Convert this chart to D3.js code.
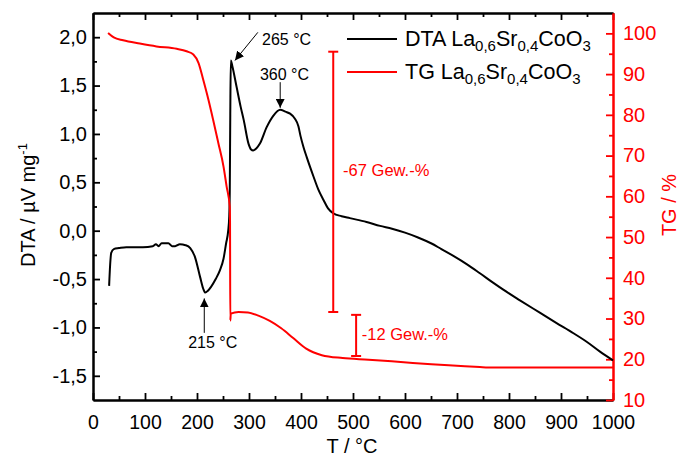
<!DOCTYPE html>
<html>
<head>
<meta charset="utf-8">
<script src="https://cdn.jsdelivr.net/npm/d3@7"></script>
<style>
body{margin:0;background:#fff;}
text{font-family:"Liberation Sans",Arial,sans-serif;}
</style>
</head>
<body>
<svg id="chart" width="679" height="462"></svg>
<script>
// DTA curve (T in °C, signal in µV/mg)
var dtaT=[31,33,35,40,50,64,96,115,121,126,132,138,145,152,158,167,178,187,196,206,212,216,221,227,236,244,251,256,260,262,263,264,265,268,276,284,290,299,304,308,314,321,334,347,360,370,379,388,395,399,405,411,424,433,443,452,462,478,494,526,552,575,600,625,650,670,693,720,744,770,789,821,860,890,924,950,975,1000];
var dtaV=[-0.57,-0.35,-0.23,-0.19,-0.18,-0.17,-0.17,-0.16,-0.14,-0.16,-0.13,-0.13,-0.13,-0.16,-0.16,-0.14,-0.15,-0.18,-0.27,-0.48,-0.60,-0.64,-0.62,-0.58,-0.50,-0.41,-0.29,-0.13,0.0,0.15,0.4,1.2,1.76,1.70,1.49,1.28,1.14,0.90,0.84,0.83,0.85,0.90,1.07,1.19,1.25,1.23,1.21,1.16,1.08,0.98,0.86,0.76,0.56,0.43,0.32,0.23,0.18,0.15,0.13,0.09,0.05,0.02,-0.02,-0.07,-0.13,-0.19,-0.26,-0.35,-0.44,-0.54,-0.61,-0.72,-0.85,-0.95,-1.06,-1.15,-1.25,-1.34];
// TG curve (T in °C, mass in %)
var tgT=[29,40,58,90,122,161,180,193,203,212,222,231,241,251,257,263,263.5,264,265,280,298,318,340,362,385,410,440,480,530,615,744,760,1000];
var tgV=[100.1,99.0,98.3,97.5,96.8,96.2,95.6,94.8,92.7,88.6,83.7,78.8,73.1,67.3,62.4,57.5,54,29.5,31.2,31.6,31.5,30.7,29.4,27.6,25.2,22.6,21.0,20.3,19.9,19.1,18.1,18.0,18.0];

var xTicks=[0,100,200,300,400,500,600,700,800,900,1000];
var xMinor=[50,150,250,350,450,550,650,750,850,950];
var dtaTicks=[-1.5,-1.0,-0.5,0.0,0.5,1.0,1.5,2.0];
var dtaMinor=[-1.25,-0.75,-0.25,0.25,0.75,1.25,1.75];
var tgTicks=[10,20,30,40,50,60,70,80,90,100];
var tgMinor=[15,25,35,45,55,65,75,85,95];

// peak labels: text, arrow from/to (T, DTA)
var peakLabel=["265 °C","360 °C","215 °C"];
var peakTextAt=[[325,1.92],[321,1.555],[183,-1.21]];
var peakArrow=[[[317,2.05],[273,1.76]],[[360,1.535],[360,1.27]],[[214,-1.056],[214,-0.70]]];
// mass loss bars (T, TG from, TG to) and labels
var lossLabel=["-67 Gew.-%","-12 Gew.-%"];
var lossBar=[[462,95.5,31.6],[506,30.9,20.8]];
var lossTextAt=[[481,65],[517,24.7]];

var svg=d3.select("#chart");
var x=d3.scaleLinear().domain([0,1000]).range([93,613]);
var yL=d3.scaleLinear().domain([-1.75,2.25]).range([400,13]);
var yR=d3.scaleLinear().domain([10,105]).range([400,13]);
var red="#ff0000";

function comma(v){return d3.format(".1f")(v).replace(".",",").replace("\u2212","-");}

function styleAxis(g,col,fs){
	g.select(".domain").attr("stroke",col).attr("stroke-width",2);
	g.selectAll(".tick line").attr("stroke",col).attr("stroke-width",1.8);
	g.selectAll(".tick text").attr("fill",col).style("font-size",fs+"px").style("font-family","Liberation Sans, Arial, sans-serif");
}

// bottom
var gb=svg.append("g").attr("transform","translate(0,400)");
gb.call(d3.axisBottom(x).tickValues(xTicks).tickSize(-7).tickSizeOuter(0).tickPadding(15).tickFormat(d3.format("d")));
styleAxis(gb,"#000",19.5);
var gb2=svg.append("g").attr("transform","translate(0,400)");
gb2.call(d3.axisBottom(x).tickValues(xMinor).tickSize(-4).tickSizeOuter(0).tickFormat(""));
styleAxis(gb2,"#000",19);
// top
var gt=svg.append("g").attr("transform","translate(0,13)");
gt.call(d3.axisTop(x).tickValues(xTicks).tickSize(-7).tickSizeOuter(0).tickFormat(""));
styleAxis(gt,"#000",19);
var gt2=svg.append("g").attr("transform","translate(0,13)");
gt2.call(d3.axisTop(x).tickValues(xMinor).tickSize(-4).tickSizeOuter(0).tickFormat(""));
styleAxis(gt2,"#000",19);
// left
var gl=svg.append("g").attr("transform","translate(93,0)");
gl.call(d3.axisLeft(yL).tickValues(dtaTicks).tickSize(-7).tickSizeOuter(0).tickPadding(6).tickFormat(comma));
styleAxis(gl,"#000",20);
var gl2=svg.append("g").attr("transform","translate(93,0)");
gl2.call(d3.axisLeft(yL).tickValues(dtaMinor).tickSize(-4).tickSizeOuter(0).tickFormat(""));
styleAxis(gl2,"#000",19);
// right (TG)
var gr=svg.append("g").attr("transform","translate(613,0)");
gr.call(d3.axisRight(yR).tickValues(tgTicks).tickSize(-7).tickSizeOuter(0).tickPadding(10).tickFormat(d3.format("d")));
styleAxis(gr,red,20);
var gr2=svg.append("g").attr("transform","translate(613,0)");
gr2.call(d3.axisRight(yR).tickValues(tgMinor).tickSize(-4).tickSizeOuter(0).tickFormat(""));
styleAxis(gr2,red,19);

// axis titles
svg.append("text").attr("x",352).attr("y",453).attr("text-anchor","middle").style("font-size","20px").text("T / °C");
var lt=svg.append("text").attr("transform","translate(35,205) rotate(-90)").attr("text-anchor","middle").style("font-size","20px");
lt.append("tspan").text("DTA / µV mg");
lt.append("tspan").attr("dy",-8).style("font-size","13px").text("-1");
svg.append("text").attr("transform","translate(676,205) rotate(-90)").attr("text-anchor","middle").attr("fill",red).style("font-size","20px").text("TG / %");

// curves
var dtaLine=d3.line().curve(d3.curveMonotoneX).x(function(d,i){return x(dtaT[i]);}).y(function(d,i){return yL(dtaV[i]);});
var tgLine=d3.line().curve(d3.curveMonotoneX).x(function(d,i){return x(tgT[i]);}).y(function(d,i){return yR(tgV[i]);});
svg.append("path").attr("d",dtaLine(dtaT)).attr("fill","none").attr("stroke","#000").attr("stroke-width",2).attr("stroke-linejoin","round");
svg.append("path").attr("d",tgLine(tgT)).attr("fill","none").attr("stroke",red).attr("stroke-width",2).attr("stroke-linejoin","round");

// arrows
svg.append("defs").append("marker").attr("id","ah").attr("viewBox","0 0 10 10").attr("refX",10).attr("refY",5)
	.attr("markerWidth",9).attr("markerHeight",9).attr("markerUnits","userSpaceOnUse").attr("orient","auto")
	.append("path").attr("d","M0,0L10,5L0,10Z").attr("fill","#000");
for(var i=0;i<peakLabel.length;i++){
	var a=peakArrow[i];
	svg.append("line").attr("x1",x(a[0][0])).attr("y1",yL(a[0][1])).attr("x2",x(a[1][0])).attr("y2",yL(a[1][1]))
		.attr("stroke","#000").attr("stroke-width",1).attr("marker-end","url(#ah)");
	svg.append("text").attr("x",x(peakTextAt[i][0])).attr("y",yL(peakTextAt[i][1])).style("font-size","16px").text(peakLabel[i]);
}

// mass loss bars
for(var j=0;j<lossBar.length;j++){
	var b=lossBar[j];
	var bx=x(b[0]);
	var g=svg.append("g").attr("stroke",red).attr("stroke-width",2);
	g.append("line").attr("x1",bx).attr("x2",bx).attr("y1",yR(b[1])).attr("y2",yR(b[2]));
	g.append("line").attr("x1",bx-5).attr("x2",bx+5).attr("y1",yR(b[1])).attr("y2",yR(b[1]));
	g.append("line").attr("x1",bx-5).attr("x2",bx+5).attr("y1",yR(b[2])).attr("y2",yR(b[2]));
	svg.append("text").attr("x",x(lossTextAt[j][0])).attr("y",yR(lossTextAt[j][1])).attr("fill",red).style("font-size","16.5px").text(lossLabel[j]);
}

// legend
var legend=[{name:"DTA",col:"#000"},{name:"TG",col:red}];
legend.forEach(function(l,k){
	var ly=39+k*33;
	svg.append("line").attr("x1",347).attr("x2",397).attr("y1",ly).attr("y2",ly).attr("stroke",l.col).attr("stroke-width",2);
	var t=svg.append("text").attr("x",405).attr("y",ly+7).style("font-size","21.5px").attr("fill","#000");
	t.append("tspan").text(l.name+" La");
	t.append("tspan").attr("dy",5).style("font-size","15px").text("0,6");
	t.append("tspan").attr("dy",-5).text("Sr");
	t.append("tspan").attr("dy",5).style("font-size","15px").text("0,4");
	t.append("tspan").attr("dy",-5).text("CoO");
	t.append("tspan").attr("dy",5).style("font-size","15px").text("3");
});
</script>
</body>
</html>
